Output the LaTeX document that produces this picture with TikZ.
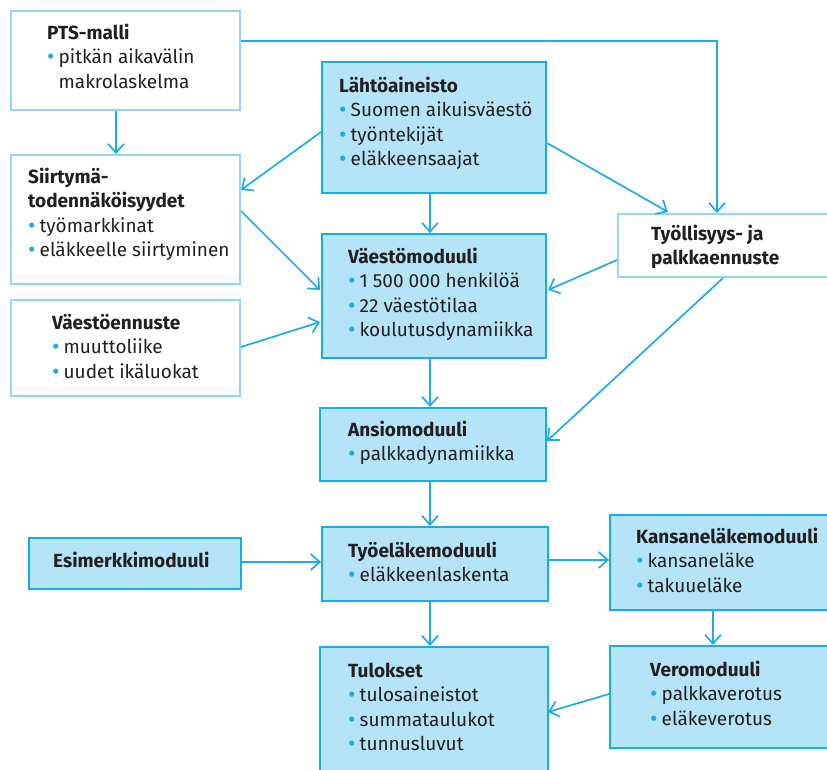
\documentclass[tikz,border=0pt]{standalone}
\usepackage{fontspec}
\setmainfont{Fira Sans}
\usetikzlibrary{arrows.meta}
\definecolor{fillb}{HTML}{B5E4F8}
\definecolor{darkb}{HTML}{12AEE9}
\definecolor{lightb}{HTML}{8FD7F5}
\definecolor{arr}{HTML}{1AADE8}
\definecolor{txt}{HTML}{231F20}
\newcommand\bl{\raisebox{-1.2pt}{\fontsize{23}{23}\selectfont\color{arr}•}\hspace{4pt}}
\newcommand\ind{\phantom{\bl}}
\newcommand\blk[1]{\begin{tabular}[t]{@{}l@{}}#1\end{tabular}}
\tikzset{
  wbox/.style={draw=lightb, fill=white, line width=2pt, inner sep=0pt, anchor=north west},
  bbox/.style={draw=darkb, fill=fillb, line width=2pt, inner sep=0pt, anchor=north west},
  lbl/.style={anchor=base west, inner sep=0pt, text=txt, font=\fontsize{19}{24.5}\selectfont},
  con/.style={draw=arr, line width=1.7pt, -{Straight Barb[length=9pt,width=16pt,line width=1.7pt]}},
}
\begin{document}
\begin{tikzpicture}[x=1pt,y=-1pt]
\useasboundingbox (0,0) rectangle (827,769);
\clip (0,0) rectangle (827,769);
\fill[white] (0,0) rectangle (827,769);
% boxes
\node[wbox, minimum width=229pt, minimum height=99pt] (pts) at (10,10) {};
\node[wbox, minimum width=229pt, minimum height=129pt] (siirt) at (10,154) {};
\node[wbox, minimum width=229pt, minimum height=96pt] (venn) at (10,299) {};
\node[bbox, minimum width=224pt, minimum height=131pt] (lahto) at (321,61) {};
\node[bbox, minimum width=224pt, minimum height=124pt] (vmod) at (321,233) {};
\node[wbox, minimum width=220pt, minimum height=63pt] (tyoll) at (617,213) {};
\node[bbox, minimum width=226pt, minimum height=73pt] (ansio) at (319,407) {};
\node[bbox, minimum width=226pt, minimum height=74pt] (tyoel) at (321,526) {};
\node[bbox, minimum width=230pt, minimum height=95pt] (kans) at (609,514) {};
\node[bbox, minimum width=228pt, minimum height=135pt] (tulos) at (319,646) {};
\node[bbox, minimum width=230pt, minimum height=102pt] (vero) at (609,645) {};
\node[bbox, minimum width=212pt, minimum height=51pt] (esim) at (28,537) {};
% texts
\node[lbl] (ptsT) at (47,39) {\blk{\textbf{PTS-malli}\\ \bl pitkän aikavälin\\ \ind makrolaskelma}};
\node[lbl] (siirtT) at (28,183) {\blk{\textbf{Siirtymä-}\\ \textbf{todennäköisyydet}\\ \bl työmarkkinat\\ \bl eläkkeelle siirtyminen}};
\node[lbl] (vennT) at (52,329) {\blk{\textbf{Väestöennuste}\\ \bl muuttoliike\\ \bl uudet ikäluokat}};
\node[lbl] (lahtoT) at (339,92) {\blk{\textbf{Lähtöaineisto}\\ \bl Suomen aikuisväestö\\ \bl työntekijät\\ \bl eläkkeensaajat}};
\node[lbl] (vmodT) at (348,263) {\blk{\textbf{Väestömoduuli}\\ \bl 1 500 000 henkilöä\\ \bl 22 väestötilaa\\ \bl koulutusdynamiikka}};
\node[lbl] (tyollT) at (651,240) {\blk{\textbf{Työllisyys- ja}\\ \textbf{palkkaennuste}}};
\node[lbl] (ansioT) at (348,436) {\blk{\textbf{Ansiomoduuli}\\ \bl palkkadynamiikka}};
\node[lbl] (tyoelT) at (348,557) {\blk{\textbf{Työeläkemoduuli}\\ \bl eläkkeenlaskenta}};
\node[lbl] (kansT) at (636,543) {\blk{\textbf{Kansaneläkemoduuli}\\ \bl kansaneläke\\ \bl takuueläke}};
\node[lbl] (tulosT) at (348,677) {\blk{\textbf{Tulokset}\\ \bl tulosaineistot\\ \bl summataulukot\\ \bl tunnusluvut}};
\node[lbl] (veroT) at (650,676) {\blk{\textbf{Veromoduuli}\\ \bl palkkaverotus\\ \bl eläkeverotus}};
\node[lbl] (esimT) at (53,567) {\textbf{Esimerkkimoduuli}};
% connectors
\draw[con] (pts.south -| 116,0) -- (siirt.north -| 116,0);
\draw[con] (pts.east |- 0,41) -- (717,41) -- (tyoll.north -| 717,0);
\draw[con] (lahto.west |- 0,132) -- (siirt.east |- 0,190);
\draw[con] (lahto.south -| 430,0) -- (vmod.north -| 430,0);
\draw[con] (lahto.east |- 0,143) -- (668,212);
\draw[con] (siirt.east |- 0,211) -- (320,290);
\draw[con] (venn.east |- 0,347) -- (320,322);
\draw[con] (tyoll.west |- 0,260) -- (548,290);
\draw[con] (vmod.south -| 430,0) -- (ansio.north -| 430,0);
\draw[con] (tyoll.south -| 723,0) -- (547,441);
\draw[con] (ansio.south -| 430,0) -- (tyoel.north -| 430,0);
\draw[con] (esim.east |- 0,562) -- (tyoel.west |- 0,562);
\draw[con] (tyoel.east |- 0,560) -- (kans.west |- 0,560);
\draw[con] (tyoel.south -| 430,0) -- (tulos.north -| 430,0);
\draw[con] (kans.south -| 713,0) -- (vero.north -| 713,0);
\draw[con] (vero.west |- 0,694) -- (548,712);
\end{tikzpicture}
\end{document}
